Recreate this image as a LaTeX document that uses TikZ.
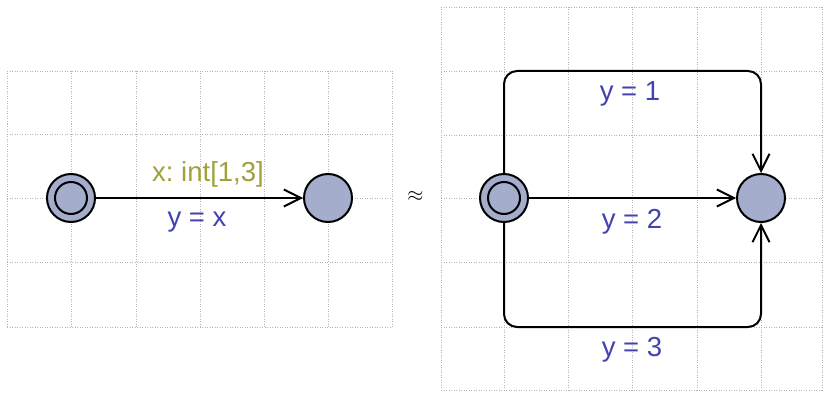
\documentclass[tikz,border=0pt]{standalone}
\usepackage{fontspec}
\setmainfont{Liberation Sans}
\usetikzlibrary{arrows.meta}
\frenchspacing
\definecolor{nodefill}{RGB}{165,173,205}
\definecolor{lblblue}{RGB}{66,66,176}
\definecolor{lblolive}{RGB}{160,160,60}
\definecolor{gridgray}{RGB}{180,180,180}
\tikzset{
  gridline/.style={draw=gridgray, line width=0.8pt, dash pattern=on 1pt off 1.5pt},
  loc/.style={circle, draw=black, line width=2pt, fill=nodefill, minimum size=48pt, inner sep=0pt},
  innerring/.style={circle, draw=black, line width=2pt, minimum size=32pt, inner sep=0pt},
  edge/.style={draw=black, line width=2pt, -{Straight Barb[length=17pt,width=17pt,line width=2pt]}},
  upd/.style={text=lblblue, font=\fontsize{27.5}{30}\selectfont, inner sep=0pt},
  sel/.style={text=lblolive, font=\fontsize{27.5}{30}\selectfont, inner sep=0pt}
}
\begin{document}
\begin{tikzpicture}[x=1pt,y=-1pt]
\useasboundingbox (0,0) rectangle (824,393);
% left grid
\foreach \gx in {7,71,136,200,264,328,392} \draw[gridline] (\gx,71) -- (\gx,327);
\foreach \gy in {71,134,198,262,327} \draw[gridline] (7,\gy) -- (392,\gy);
% right grid
\foreach \gx in {441,504,568,632,697,761,822} \draw[gridline] (\gx,7) -- (\gx,390);
\foreach \gy in {7,71,135,198,262,327,390} \draw[gridline] (441,\gy) -- (822,\gy);
% left automaton
\node[loc] (a0) at (71,198) {};
\node[innerring] (a0in) at (71,198) {};
\node[loc] (a1) at (328,198) {};
\draw[edge] (a0) -- (a1);
\node[sel] (sela) at (208,174) {x: int[1,3]};
\node[upd] (upda) at (197,222) {y = x};
% approx
\node[font=\fontsize{22}{24}\selectfont, inner sep=0pt] (approx) at (415.5,196.5) {$\approx$};
% right automaton
\node[loc] (b0) at (504,198) {};
\node[innerring] (b0in) at (504,198) {};
\node[loc] (b1) at (761,198) {};
\coordinate (topy) at (0,71);
\coordinate (boty) at (0,327);
\draw[edge, rounded corners=13pt] (b0.north) -- (b0.north |- topy) -- (b1.north |- topy) -- (b1.north);
\draw[edge] (b0) -- (b1);
\draw[edge, rounded corners=13pt] (b0.south) -- (b0.south |- boty) -- (b1.south |- boty) -- (b1.south);
\node[upd] (u1) at (630,94) {y = 1};
\node[upd] (u2) at (632,222) {y = 2};
\node[upd] (u3) at (632,350) {y = 3};
\end{tikzpicture}
\end{document}
